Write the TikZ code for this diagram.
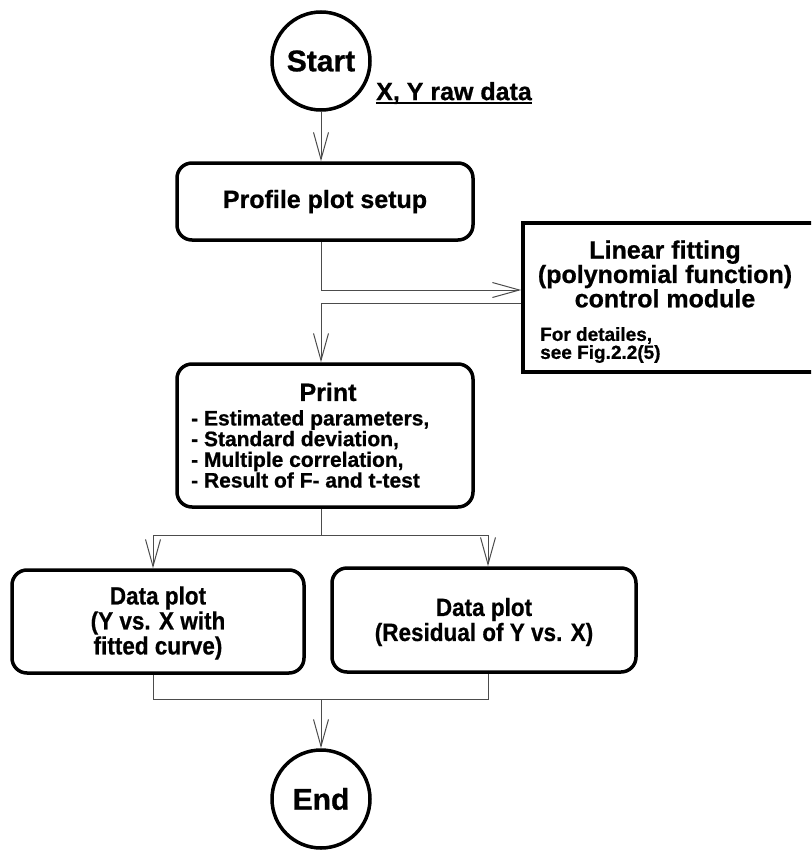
\documentclass[tikz,border=0pt]{standalone}
\usepackage{fontspec}
\setmainfont{Liberation Sans}[BoldFeatures={FakeBold=0.8}]
\newfontfamily\narrowfont{Liberation Sans}[FakeStretch=0.9, BoldFeatures={FakeBold=0.6}]
\usetikzlibrary{arrows.meta}
\begin{document}
\begin{tikzpicture}[x=1pt,y=-1pt,
  box/.style={draw, line width=3.5pt, rounded corners=15pt, inner sep=0pt},
  conn/.style={draw=black!70, line width=1pt},
  arr/.style={conn, -{Straight Barb[length=27pt,width=15pt,line width=1pt]}},
  term/.style={draw, circle, line width=3.5pt, minimum size=98pt, inner sep=0pt,
    font=\fontsize{30}{32}\selectfont\bfseries},
  big/.style={font=\fontsize{25}{21.5}\selectfont\bfseries, inner sep=0pt},
  plottext/.style={font=\narrowfont\fontsize{25}{25}\selectfont\bfseries, align=center, inner sep=0pt}
]
\clip (0,0) rectangle (811,851);
\fill[white] (0,0) rectangle (811,851);

% terminals
\node[term] (start) at (321,61) {Start};
\node[term] (end) at (321,799) {End};

% raw data label
\node[font=\fontsize{25}{27}\selectfont\bfseries, inner sep=0pt] (raw) at (454,93) {X, Y raw data};
\draw[line width=2pt] ([yshift=-3pt]raw.base west) -- ([yshift=-3pt]raw.base east);

% profile
\node[box, minimum width=296pt, minimum height=77pt, big] (profile) at (325,201.5) {Profile plot setup};

% linear fitting module
\node[draw, line width=3.5pt, minimum width=307pt, minimum height=149pt, inner sep=0pt] (linear) at (676.5,297.5) {};
\node[big, align=center] (lintext) at (665,274) {Linear fitting\\(polynomial function)\\control module};
\node[font=\fontsize{19}{18}\selectfont\bfseries, align=left, anchor=west, inner sep=0pt] (lindet) at (540,345) {For detailes,\\see Fig.2.2(5)};

% print
\node[box, minimum width=296pt, minimum height=143pt] (print) at (325,435.5) {};
\node[big] (printtitle) at (328,392) {Print};
\node[font=\fontsize{21}{20.7}\selectfont\bfseries, align=left, anchor=west, inner sep=0pt] (printlist) at (191,449)
  {- Estimated parameters,\\- Standard deviation,\\- Multiple correlation,\\- Result of F- and t-test};

% data plots
\node[box, minimum width=292pt, minimum height=103pt] (dl) at (158,621.5) {};
\node[plottext] (dltext) at (158,623) {Data plot\\(Y vs. X with\\fitted curve)};
\node[box, minimum width=304pt, minimum height=104pt] (dr) at (484,620) {};
\node[plottext] (drtext) at (484,622) {Data plot\\(Residual of Y vs. X)};

% connectors
\coordinate (j1) at (321,290);
\coordinate (j2) at (321,303);
\coordinate (j3) at (321,535);
\coordinate (j3l) at (153,535);
\coordinate (j3r) at (488,535);
\coordinate (j4) at (321,699);
\coordinate (j4l) at (153,699);
\coordinate (j4r) at (488,699);

\draw[arr] (start) -- (profile.north -| start);
\draw[conn] (profile.south -| start) -- (j1);
\draw[arr] (j1) -- (j1 -| linear.west);
\draw[arr] (j2 -| linear.west) -- (j2) -- (print.north -| j2);
\draw[conn] (print.south -| j3) -- (j3);
\draw[arr] (j3) -- (j3l) -- (j3l |- dl.north);
\draw[arr] (j3) -- (j3r) -- (j3r |- dr.north);
\draw[conn] (dl.south -| j4l) -- (j4l) -- (j4r) -- (dr.south -| j4r);
\draw[arr] (j4) -- (end);
\end{tikzpicture}
\end{document}
